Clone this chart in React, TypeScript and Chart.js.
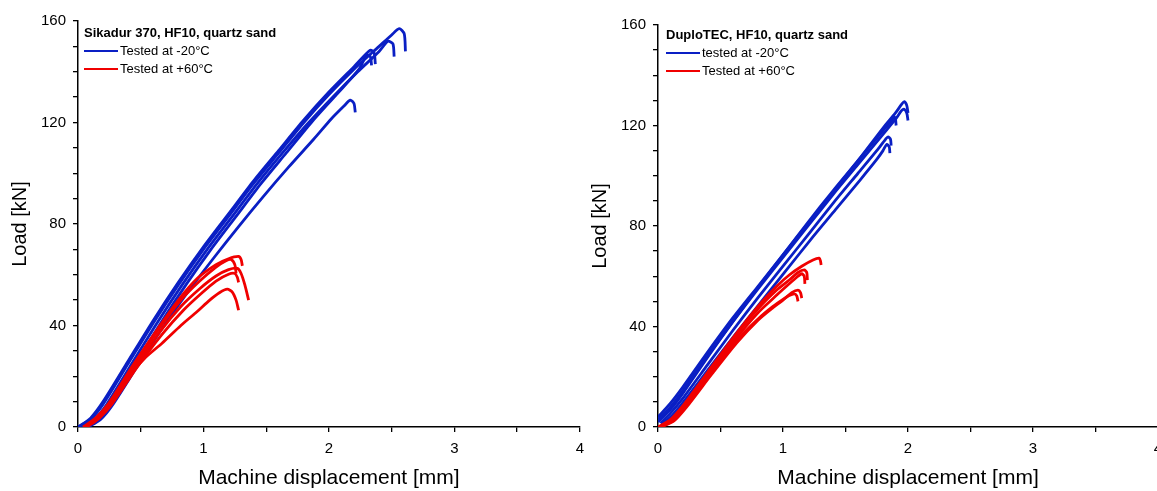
import React, { useEffect, useRef } from 'react';
import { Chart, registerables } from 'chart.js';

Chart.register(...registerables);

type Pt = [number, number];

// ---------- axis ticks ----------
const xMajorTicks = [0, 1, 2, 3, 4];
const yMajorTicks = [0, 40, 80, 120, 160];

// ---------- left panel: Sikadur 370 ----------
const sikaTitle = 'Sikadur 370, HF10, quartz sand';
const sikaColdLabel = 'Tested at -20°C';
const sikaHotLabel = 'Tested at +60°C';

const sikaCold1: Pt[] = [[0, 0], [0.1, 3], [0.2, 9], [0.4, 25], [0.6, 41], [0.8, 56], [1.0, 70], [1.2, 83], [1.4, 96], [1.6, 108], [1.8, 120], [2.0, 131], [2.2, 141], [2.4, 150], [2.5, 154.5], [2.56, 157], [2.6, 155], [2.61, 148]];
const sikaCold2: Pt[] = [[0.03, 0], [0.13, 3], [0.23, 9], [0.43, 25], [0.63, 41], [0.83, 56], [1.03, 70], [1.23, 83], [1.43, 96], [1.63, 108], [1.83, 119.5], [2.03, 130], [2.23, 140], [2.4, 148], [2.47, 152], [2.51, 151], [2.52, 146]];
const sikaCold3: Pt[] = [[0, 0], [0.1, 3.5], [0.2, 10], [0.4, 26], [0.6, 42], [0.8, 57], [1.0, 71], [1.2, 84], [1.4, 97], [1.6, 109], [1.8, 121], [2.0, 132], [2.2, 142], [2.33, 148.5], [2.36, 147.5], [2.37, 143]];
const sikaCold4: Pt[] = [[0.06, 0], [0.16, 3], [0.26, 9], [0.46, 25], [0.66, 41], [0.86, 56], [1.06, 70], [1.26, 83], [1.46, 96], [1.66, 108], [1.86, 120], [2.06, 131], [2.24, 141], [2.3, 146.5], [2.33, 146], [2.34, 142.5]];
const sikaCold5: Pt[] = [[0.08, 0], [0.18, 3], [0.28, 9], [0.48, 24.5], [0.68, 39.5], [0.88, 53.5], [1.08, 66.5], [1.28, 79], [1.48, 91], [1.68, 102.5], [1.88, 113.5], [2.02, 121.5], [2.12, 126.5], [2.17, 128.8], [2.2, 127.5], [2.21, 124]];

const sikaHot1: Pt[] = [[0.04, 0], [0.14, 3.5], [0.24, 9], [0.44, 24.5], [0.64, 39], [0.8, 50], [0.95, 58.5], [1.1, 64], [1.2, 66.3], [1.28, 67.2], [1.3, 66], [1.31, 63.5]];
const sikaHot2: Pt[] = [[0.05, 0], [0.15, 3.5], [0.25, 9], [0.45, 24.5], [0.65, 39], [0.82, 50], [0.97, 57.5], [1.1, 63], [1.18, 65.5], [1.22, 66], [1.25, 64], [1.26, 60.5]];
const sikaHot3: Pt[] = [[0.06, 0], [0.16, 3.5], [0.26, 9], [0.46, 24], [0.66, 38], [0.82, 47.5], [0.97, 54.5], [1.1, 59.5], [1.2, 62], [1.27, 62.5], [1.3, 60.5], [1.33, 56], [1.36, 50]];
const sikaHot4: Pt[] = [[0.07, 0], [0.17, 3.5], [0.27, 9], [0.47, 23.5], [0.67, 36.5], [0.84, 46], [0.98, 52.5], [1.1, 57.5], [1.2, 60.2], [1.25, 60.5], [1.27, 59], [1.28, 57]];
const sikaHot5: Pt[] = [[0.05, 0], [0.15, 3.5], [0.25, 9], [0.4, 19.5], [0.53, 27], [0.67, 33], [0.82, 40], [0.95, 45.5], [1.05, 50], [1.13, 53], [1.19, 54.3], [1.23, 53.2], [1.26, 50], [1.28, 46]];

// ---------- right panel: DuploTEC ----------
const duploTitle = 'DuploTEC, HF10, quartz sand';
const duploColdLabel = 'tested at -20°C';
const duploHotLabel = 'Tested at +60°C';

const duploCold1: Pt[] = [[0, 4], [0.1, 9.5], [0.2, 16], [0.4, 30], [0.6, 43.5], [0.8, 56], [1.0, 68.5], [1.2, 81], [1.4, 93.5], [1.6, 106], [1.8, 119], [1.9, 125], [1.95, 128.5], [1.97, 129.5], [1.99, 128], [2.0, 125]];
const duploCold2: Pt[] = [[0, 3], [0.1, 8], [0.2, 14.5], [0.4, 28.5], [0.6, 42], [0.8, 55], [1.0, 67.5], [1.2, 80], [1.4, 92.5], [1.6, 104.5], [1.8, 116.5], [1.9, 122.5], [1.95, 126], [1.97, 126.5], [1.99, 125], [2.0, 122]];
const duploCold3: Pt[] = [[0, 2], [0.1, 7], [0.2, 13.5], [0.4, 28], [0.6, 42], [0.8, 55.5], [1.0, 68.5], [1.2, 81.5], [1.4, 94], [1.6, 106], [1.8, 118], [1.87, 122], [1.89, 123.5], [1.9, 122.5], [1.905, 120]];
const duploCold4: Pt[] = [[0.02, 1.5], [0.1, 5.5], [0.2, 11.5], [0.4, 25], [0.6, 38.5], [0.8, 51.5], [1.0, 64], [1.2, 76.5], [1.4, 89], [1.6, 101], [1.75, 110], [1.82, 114.5], [1.84, 115.5], [1.86, 114.5], [1.865, 112]];
const duploCold5: Pt[] = [[0.03, 1], [0.12, 5], [0.22, 11], [0.42, 24], [0.62, 37], [0.82, 49.5], [1.02, 62], [1.22, 74.5], [1.42, 86.5], [1.62, 98.5], [1.75, 106.5], [1.8, 110], [1.83, 112.5], [1.85, 111.5], [1.855, 109]];

const duploHot1: Pt[] = [[0, 0], [0.1, 3], [0.2, 8.5], [0.4, 22], [0.6, 35.5], [0.8, 48], [0.95, 56], [1.05, 60.5], [1.15, 64], [1.24, 66.5], [1.29, 67.2], [1.3, 66], [1.305, 64.5]];
const duploHot2: Pt[] = [[0.01, 0], [0.1, 2.5], [0.2, 8], [0.4, 21.5], [0.6, 35], [0.8, 47], [0.95, 54.5], [1.05, 58.5], [1.12, 61.5], [1.17, 62.5], [1.19, 61.5], [1.195, 58.5]];
const duploHot3: Pt[] = [[0.02, 0], [0.12, 3], [0.22, 8.5], [0.42, 22], [0.62, 35], [0.8, 45.5], [0.95, 52.5], [1.05, 57], [1.12, 60], [1.15, 61], [1.17, 60], [1.175, 57]];
const duploHot4: Pt[] = [[0.03, 0], [0.13, 2.5], [0.23, 8], [0.43, 21], [0.63, 33.5], [0.8, 42.5], [0.92, 47.5], [1.0, 50.5], [1.07, 53.5], [1.12, 54.5], [1.14, 53.5], [1.15, 51.3]];
const duploHot5: Pt[] = [[0.02, 0], [0.12, 2.5], [0.22, 8], [0.42, 21.5], [0.62, 34], [0.8, 43], [0.92, 48], [1.0, 50.8], [1.05, 52.3], [1.09, 53], [1.11, 52.2], [1.12, 50]];

const BLUE = '#0a1fc4';
const RED = '#f00000';
const FONT = "'Liberation Sans', Arial, Helvetica, sans-serif";

interface Panel {
  title: string;
  coldLabel: string;
  hotLabel: string;
  cold: Pt[][];
  hot: Pt[][];
  padTop: number;
  padRight: number;
  legendDx: number;
  legendDy: number;
}

function legendPlugin(p: Panel) {
  return {
    id: 'panelLegend',
    afterDraw(chart: any) {
      const { ctx, chartArea } = chart;
      const x0 = chartArea.left + p.legendDx;
      const y0 = chartArea.top + p.legendDy;
      ctx.save();
      ctx.textBaseline = 'middle';
      ctx.textAlign = 'left';
      ctx.fillStyle = '#000';
      ctx.font = `bold 13px ${FONT}`;
      ctx.fillText(p.title, x0, y0);
      const rows: [string, string][] = [[p.coldLabel, BLUE], [p.hotLabel, RED]];
      rows.forEach(([label, color], i) => {
        const y = y0 + 18 * (i + 1);
        ctx.strokeStyle = color;
        ctx.lineWidth = 2;
        ctx.beginPath();
        ctx.moveTo(x0, y);
        ctx.lineTo(x0 + 34, y);
        ctx.stroke();
        ctx.fillStyle = '#000';
        ctx.font = `13px ${FONT}`;
        ctx.fillText(label, x0 + 36, y);
      });
      ctx.restore();
    },
  };
}

function buildConfig(p: Panel): any {
  const mk = (c: Pt[], color: string, label: string) => ({
    label,
    data: c.map(([x, y]) => ({ x, y })),
    borderColor: color,
    backgroundColor: color,
    borderWidth: 2.8,
    pointRadius: 0,
    tension: 0.25,
    fill: false,
  });
  const datasets = [
    ...p.hot.map((c) => mk(c, RED, p.hotLabel)),
    ...p.cold.map((c) => mk(c, BLUE, p.coldLabel)),
  ];
  const axisCommon = {
    grid: {
      display: true,
      drawOnChartArea: false,
      drawTicks: true,
      tickLength: 5,
      color: '#000',
      tickColor: '#000',
      lineWidth: 1.3,
    },
    border: { display: true, color: '#000', width: 1.5 },
  };
  return {
    type: 'line',
    data: { datasets },
    options: {
      animation: false,
      responsive: false,
      maintainAspectRatio: false,
      layout: { padding: { left: 0, top: p.padTop, right: p.padRight, bottom: 0 } },
      plugins: { legend: { display: false }, tooltip: { enabled: false } },
      scales: {
        x: {
          type: 'linear',
          min: 0,
          max: 4,
          afterFit: (s: any) => {
            s.height = 64;
          },
          ticks: {
            stepSize: 0.5,
            autoSkip: false,
            maxRotation: 0,
            padding: 8,
            color: '#000',
            font: { size: 15, family: FONT },
            callback: (v: any) => (xMajorTicks.includes(Number(v)) ? String(v) : ''),
          },
          title: {
            display: true,
            text: 'Machine displacement [mm]',
            color: '#000',
            font: { size: 21, family: FONT },
            padding: { top: 0, bottom: 0 },
          },
          ...axisCommon,
        },
        y: {
          type: 'linear',
          min: 0,
          max: 160,
          afterFit: (s: any) => {
            s.width = 78;
          },
          ticks: {
            stepSize: 10,
            autoSkip: false,
            padding: 7,
            color: '#000',
            font: { size: 15, family: FONT },
            callback: (v: any) => (yMajorTicks.includes(Number(v)) ? String(v) : ''),
          },
          title: {
            display: true,
            text: 'Load [kN]',
            color: '#000',
            font: { size: 20, family: FONT },
            padding: { top: 8, bottom: 0 },
          },
          ...axisCommon,
        },
      },
    },
    plugins: [legendPlugin(p)],
  };
}

const leftPanel: Panel = {
  title: sikaTitle,
  coldLabel: sikaColdLabel,
  hotLabel: sikaHotLabel,
  cold: [sikaCold1, sikaCold2, sikaCold3, sikaCold4, sikaCold5],
  hot: [sikaHot1, sikaHot2, sikaHot3, sikaHot4, sikaHot5],
  padTop: 21,
  padRight: 7.4,
  legendDx: 6,
  legendDy: 12,
};

const rightPanel: Panel = {
  title: duploTitle,
  coldLabel: duploColdLabel,
  hotLabel: duploHotLabel,
  cold: [duploCold1, duploCold2, duploCold3, duploCold4, duploCold5],
  hot: [duploHot1, duploHot2, duploHot3, duploHot4, duploHot5],
  padTop: 25,
  padRight: 22,
  legendDx: 8,
  legendDy: 10,
};

function PanelChart({ panel, left, width }: { panel: Panel; left: number; width: number }) {
  const ref = useRef<HTMLCanvasElement | null>(null);
  useEffect(() => {
    if (!ref.current) return;
    const chart = new Chart(ref.current, buildConfig(panel));
    return () => chart.destroy();
  }, [panel]);
  return (
    <canvas
      ref={ref}
      width={width}
      height={491}
      style={{ position: 'absolute', left, top: 0, width, height: 491, display: 'block' }}
    />
  );
}

export default function App() {
  return (
    <div
      style={{
        position: 'fixed',
        left: 0,
        top: 0,
        width: 1157,
        height: 491,
        overflow: 'hidden',
        background: '#fff',
      }}
    >
      <PanelChart panel={leftPanel} left={0} width={592} />
      <PanelChart panel={rightPanel} left={580} width={600} />
    </div>
  );
}
